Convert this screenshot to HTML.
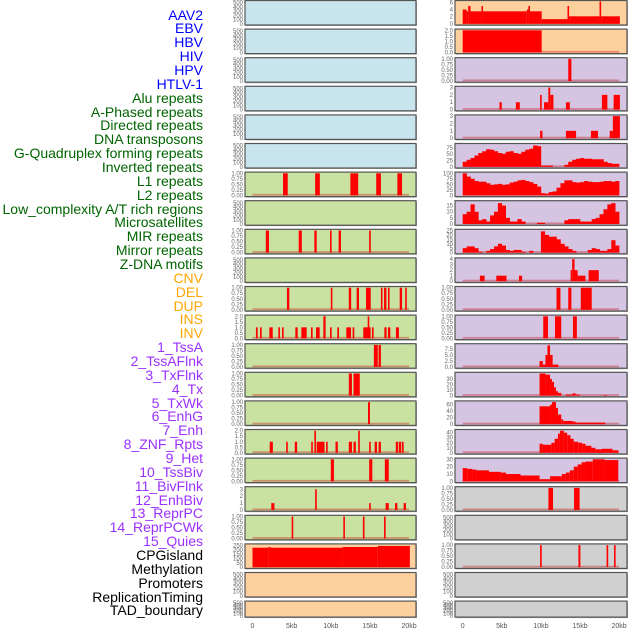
<!DOCTYPE html>
<html><head><meta charset="utf-8">
<style>
html,body{margin:0;padding:0;background:#fff;}
body{width:630px;height:630px;overflow:hidden;position:relative;font-family:"Liberation Sans",sans-serif;}
#labels div{position:absolute;right:427px;font-size:14px;line-height:14px;white-space:nowrap;}
svg{position:absolute;left:0;top:0;}
</style></head>
<body>
<div id="labels"></div>
<svg id="chart" width="630" height="630"></svg>
<script>
const trackLabels = ["AAV2","EBV","HBV","HIV","HPV","HTLV-1","Alu repeats","A-Phased repeats","Directed repeats","DNA transposons","G-Quadruplex forming repeats","Inverted repeats","L1 repeats","L2 repeats","Low_complexity A/T rich regions","Microsatellites","MIR repeats","Mirror repeats","Z-DNA motifs","CNV","DEL","DUP","INS","INV","1_TssA","2_TssAFlnk","3_TxFlnk","4_Tx","5_TxWk","6_EnhG","7_Enh","8_ZNF_Rpts","9_Het","10_TssBiv","11_BivFlnk","12_EnhBiv","13_ReprPC","14_ReprPCWk","15_Quies","CPGisland","Methylation","Promoters","ReplicationTiming","TAD_boundary"];
const labelColors = ["#0000ff","#0000ff","#0000ff","#0000ff","#0000ff","#0000ff","#006400","#006400","#006400","#006400","#006400","#006400","#006400","#006400","#006400","#006400","#006400","#006400","#006400","#ffa500","#ffa500","#ffa500","#ffa500","#ffa500","#9b30ff","#9b30ff","#9b30ff","#9b30ff","#9b30ff","#9b30ff","#9b30ff","#9b30ff","#9b30ff","#9b30ff","#9b30ff","#9b30ff","#9b30ff","#9b30ff","#9b30ff","#000","#000","#000","#000","#000"];
const xTicks = [0,5,10,15,20];
const xTickLabels = ["0","5kb","10kb","15kb","20kb"];

const L6 = [[3.9,4.5,1],[8.0,8.6,1],[12.5,13.5,1],[15.8,16.4,1],[18.5,19.1,1]];
const L8 = [[1.7,2.1,1],[5.9,6.3,1],[7.9,8.2,1],[9.9,10.1,1],[11.0,11.3,1],[14.9,15.1,1]];
const L10 = [[4.4,4.7,1],[10.0,10.2,1],[12.3,12.6,1],[13.3,13.6,1],[14.5,15.1,1],[16.4,16.6,1],[16.8,17.1,1],[17.3,17.5,1],[18.8,19.1,1],[19.5,19.7,1]];
const L11 = [[0.44,0.66,1],[0.96,1.17,1],[2.15,2.58,1],[3.3,3.51,1],[3.77,3.98,1],[5.47,5.77,1],[6.24,6.92,1],[7.47,7.68,1],[8.11,8.58,1],[9.05,9.34,2],[9.9,10.11,1],[10.83,11.05,1],[11.98,12.58,1],[12.79,13.0,1],[14.15,15.09,1],[14.71,14.83,2],[15.26,15.47,1],[16.84,17.13,1],[17.3,17.6,1],[18.32,18.7,1]];
const L12 = [[15.5,16.0,1],[16.1,16.4,1]];
const L13 = [[12.3,12.7,1],[12.9,13.7,1]];
const L14 = [[14.75,15.0,1]];
const L15 = [[2.2,2.6,1],[4.3,4.5,1],[5.4,5.7,1],[7.5,7.7,1],[7.9,8.1,2],[8.2,9.2,1],[9.4,9.6,1],[10.6,10.9,1],[12.3,12.7,1],[12.9,13.2,1],[13.5,13.7,2],[14.9,15.1,1],[15.6,15.9,1],[16.1,16.4,1],[18.3,18.6,1],[18.7,19.0,1],[19.1,19.3,1]];
const L16 = [[10.0,10.4,1],[14.9,15.3,1],[16.9,17.4,1]];
const L17 = [[2.4,2.8,1],[8.0,8.2,3],[14.9,15.1,1],[17.0,17.4,1],[18.2,18.5,1],[19.3,19.6,1]];
const L18 = [[5.0,5.2,1],[11.6,11.8,1],[14.1,14.3,1],[16.8,17.0,1]];
const L19 = [[0,2,225],[2,2.3,232],[2.3,11.5,225],[11.5,16,233],[16,20.1,245]];

const R0 = [[0,0.5,4],[0.5,0.7,3.5],[0.7,1.0,5],[1.0,2.4,3.5],[2.4,2.6,5],[2.6,8.2,3.5],[8.2,8.4,4],[8.4,8.6,5],[8.6,10.1,3.5],[10.1,13.4,1.3],[13.4,13.6,5],[13.6,17.5,2.1],[17.5,17.7,6.3],[17.7,20.1,2.1]];
const R1 = [[0,10.1,2]];
const R2 = [[13.5,13.9,1]];
const R3 = [[4.7,5.0,1],[6.8,7.3,1],[9.9,10.0,2],[10.4,10.95,1],[10.95,11.2,3],[11.2,11.6,2],[13.2,13.7,1],[17.8,18.5,2],[19.3,20.1,2]];
const R4 = [[9.9,10.2,1],[13.2,14.5,1],[16.4,17.3,1],[18.8,19.2,1],[19.2,20.1,3]];
const R5 = [20,28,35,45,55,62,70,68,62,55,52,60,62,55,52,60,68,72,85,82,5,5,5,0,0,0,8,20,28,32,35,32,32,30,30,30,20,15,12,12];
const R6 = [100,85,75,65,62,62,55,48,50,52,48,50,58,62,68,70,65,60,52,40,10,8,15,18,35,55,68,68,60,58,60,65,62,60,60,62,65,65,62,65];
const R7 = [8,10,16,10,3,4,2,7,10,17,15,5,2,2,4,2,0,0,0,1,1,0,0,0,0,0,3,4,4,4,2,2,2,4,5,8,12,16,17,10];
const R8 = [5,7,7,5,1,0,2,4,7,10,8,3,2,3,3,1,0,2,0,0,24,20,18,18,15,10,7,4,2,0,0,0,3,5,4,2,2,4,14,8];
const R9 = [[2.2,2.8,1],[4.3,5.6,1],[7.2,7.6,1],[13.8,14.0,2],[14.0,14.3,4],[14.3,14.7,2],[14.7,15.7,1],[16.1,17.4,2]];
const R10 = [[12.0,12.5,1],[13.5,13.9,1],[15.1,16.5,1]];
const R11 = [[10.3,10.9,1],[11.8,12.6,1],[14.1,14.6,1]];
const R12 = [[9.83,10.25,2.5],[10.25,10.58,1],[10.58,10.84,5],[10.84,11.17,9],[11.17,11.5,5],[11.5,12.22,1]];
const R13 = [[9.83,10.58,40],[10.58,11.17,38],[11.17,11.42,30],[11.42,11.68,25],[11.68,11.93,15],[11.93,12.18,8],[12.18,12.6,5],[13.19,14.03,2],[14.03,14.45,4],[14.45,14.95,2],[18.02,18.44,1]];
const R14 = [[9.83,11.17,55],[11.17,11.42,60],[11.42,11.93,68],[11.93,12.18,50],[12.18,12.6,30],[12.6,12.85,15],[12.85,14.03,10],[14.03,14.45,8],[14.45,18.23,5]];
const R15 = [[9.83,10.25,18],[10.25,11.34,16],[11.34,11.76,20],[11.76,12.18,28],[12.18,12.43,38],[12.43,12.94,44],[12.94,13.36,40],[13.36,13.78,35],[13.78,14.2,28],[14.2,14.78,22],[14.78,15.29,20],[15.29,15.71,18],[15.71,16.46,14],[16.46,16.97,10],[16.97,17.81,7],[17.81,19.15,8],[19.15,19.9,5]];
const R16 = [[0,0.59,18],[0.59,1.26,17],[1.26,1.76,16],[1.76,3.36,15],[3.36,4.87,13],[4.87,5.54,12],[5.54,7.39,10],[7.39,9.83,8],[9.83,11.17,3],[11.17,12.68,7],[12.68,13.19,10],[13.19,13.69,12],[13.69,14.2,15],[14.2,14.7,20],[14.7,15.2,23],[15.2,15.71,26],[15.71,16.63,27],[16.63,18.14,30],[18.14,19.9,29]];
const R17 = [[10.96,11.55,1],[14.24,14.95,1]];
const R19 = [[9.9,10.1,1],[14.8,15.05,1],[18.4,18.6,1],[19.35,19.55,1]];

const T1 = [0,0.25,0.5,0.75,1], T1L = ["0.00","0.25","0.50","0.75","1.00"];
const T2 = [0,0.5,1,1.5,2], T2L = ["0.0","0.5","1.0","1.5","2.0"];
const TE = [0,100,200,300,400,500];

const BLUE="#c8e4ec", GREEN="#c9e1a1", ORANGE="#fed09e", LAV="#d5c5e2", GRAY="#d0d0d0";
function P(data,ticks,labels,max,bg,binned){return {data,ticks,labels,max,bg,binned};}
const E = bg => P(null,TE,TE.map(String),520,bg,false);
const leftPanels = [E(BLUE),E(BLUE),E(BLUE),E(BLUE),E(BLUE),E(BLUE),
 P(L6,T1,T1L,1,GREEN),E(GREEN),P(L8,T1,T1L,1,GREEN),E(GREEN),P(L10,T1,T1L,1,GREEN),
 P(L11,T2,T2L,2,GREEN),P(L12,T1,T1L,1,GREEN),P(L13,T1,T1L,1,GREEN),P(L14,T1,T1L,1,GREEN),
 P(L15,T2,T2L,2,GREEN),P(L16,T1,T1L,1,GREEN),P(L17,[0,1,2,3],["0","1","2","3"],3.2,GREEN),
 P(L18,T1,T1L,1,GREEN),P(L19,[0,50,100,150,200,250],["0","50","100","150","200","250"],255,ORANGE),
 E(ORANGE),E(ORANGE)];
const rightPanels = [
 P(R0,[0,2,4,6],["0","2","4","6"],6.2,ORANGE),P(R1,T2,T2L,2,ORANGE),P(R2,T1,T1L,1,LAV),
 P(R3,[0,1,2,3],["0","1","2","3"],3,LAV),P(R4,[0,1,2,3],["0","1","2","3"],3,LAV),
 P(R5,[0,25,50,75],["0","25","50","75"],88,LAV,true),P(R6,[0,25,50,75,100],["0","25","50","75","100"],100,LAV,true),
 P(R7,[0,5,10,15],["0","5","10","15"],18,LAV,true),P(R8,[0,5,10,15,20,25],["0","5","10","15","20","25"],25,LAV,true),
 P(R9,[0,1,2,3,4],["0","1","2","3","4"],4,LAV),P(R10,T1,T1L,1,LAV),P(R11,T1,T1L,1,LAV),
 P(R12,[0,2.5,5,7.5],["0.0","2.5","5.0","7.5"],9.2,LAV),P(R13,[0,10,20,30],["0","10","20","30"],40,LAV),
 P(R14,[0,20,40,60],["0","20","40","60"],68,LAV),P(R15,[0,10,20,30,40],["0","10","20","30","40"],44,LAV),
 P(R16,[0,10,20,30],["0","10","20","30"],30,LAV),P(R17,T1,T1L,1,GRAY),E(GRAY),P(R19,T1,T1L,1,GRAY),E(GRAY),E(GRAY)];

const NS="http://www.w3.org/2000/svg";
const svg=document.getElementById('chart');
function mk(tag,attrs,parent){const e=document.createElementNS(NS,tag);for(const k in attrs)e.setAttribute(k,attrs[k]);(parent||svg).appendChild(e);return e;}

const lab=document.getElementById('labels');
trackLabels.forEach((t,i)=>{
  const d=document.createElement('div');
  d.textContent=t;d.style.color=labelColors[i];
  d.style.top=(15+13.86*i-7.5)+'px';
  
  
  lab.appendChild(d);
});

const cols=[{x0:245,x1:416,z:252.5,s:7.83,panels:leftPanels,name:'left'},{x0:455,x1:627,z:462.7,s:7.82,panels:rightPanels,name:'right'}];
cols.forEach(col=>{
  const xs=kb=>col.z+kb*col.s;
  col.panels.forEach((p,i)=>{
    const top=0.5+i*28.6, h=(i===21)?16:24.5, bot=top+h;
    const g=mk('g',{});
    
    
    mk('rect',{x:col.x0+1,y:top+1,width:col.x1-col.x0,height:h,fill:'#aaa'},g);
    mk('rect',{x:col.x0,y:top,width:col.x1-col.x0,height:h,fill:p.bg,stroke:'#555','stroke-width':1.2},g);
    const y0=bot-1.2, y1=top+1.2;
    const ys=v=>y0-(v/p.max)*(y0-y1);
    p.ticks.forEach((t,k)=>{
      const tx=mk('text',{x:col.x0-2,y:ys(t)+2,'text-anchor':'end','font-size':6,fill:'#666'},g);
      tx.textContent=p.labels[k];
    });
    if(!p.data)return;
    mk('rect',{x:xs(0),y:y0-1.5,width:xs(20)-xs(0),height:1.8,fill:'rgba(200,0,0,0.35)'},g);
    if(p.binned){
      p.data.forEach((v,k)=>{
        if(v<=0)return;
        const r=mk('rect',{x:xs(k*0.5),y:ys(v),width:xs(0.5)-xs(0)+0.3,height:y0-ys(v),fill:'#ff0000'},g);
        
        
      });
    } else {
      p.data.forEach(d=>{
        const w=Math.max(1.6,xs(d[1])-xs(d[0]));
        const r=mk('rect',{x:xs(d[0]),y:ys(d[2]),width:w,height:y0-ys(d[2]),fill:'#ff0000'},g);
        
        
      });
    }
  });
  xTicks.forEach((t,k)=>{
    const tx=mk('text',{x:xs(t),y:628,'text-anchor':'middle','font-size':7,fill:'#555'});
    tx.textContent=xTickLabels[k];
    
    
  });
});
</script>
</body></html>
